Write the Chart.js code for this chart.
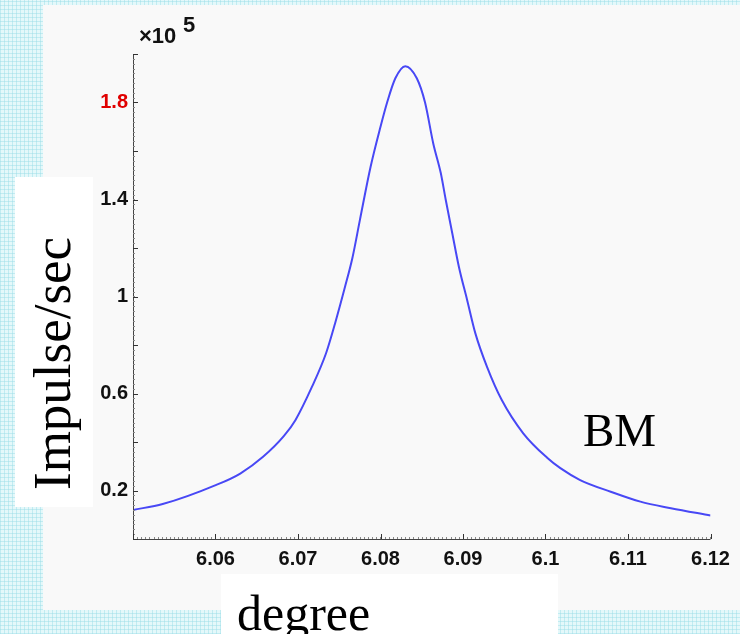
<!DOCTYPE html>
<html>
<head>
<meta charset="utf-8">
<script src="https://cdn.jsdelivr.net/npm/chart.js@4"></script>
<style>
  html, body { margin: 0; padding: 0; }
  body {
    width: 740px; height: 634px; overflow: hidden; position: relative;
    background-color: #e4f8fa;
    background-image:
      repeating-linear-gradient(0deg, rgba(150,220,230,0.45) 0 1px, transparent 1px 4px),
      repeating-linear-gradient(90deg, rgba(150,220,230,0.45) 0 1px, transparent 1px 4px);
  }
  #panel { position: absolute; left: 43px; top: 5px; width: 697px; height: 605px; background: #f9f9f9; }
  #wrap { position: absolute; left: 0; top: 0; width: 740px; height: 634px; }
  .box { position: absolute; background: #fff; }
  .serif { position: absolute; font-family: "Liberation Serif", "Times New Roman", serif; color: #000; line-height: 1; white-space: nowrap; }
  .sans { position: absolute; font-family: "Liberation Sans", Arial, sans-serif; font-weight: bold; color: #111; line-height: 1; white-space: nowrap; }
</style>
</head>
<body>
<div id="panel"></div>
<div class="box" style="left:15px; top:177px; width:78px; height:330px;"></div>
<div class="box" style="left:221px; top:574px; width:337px; height:60px;"></div>
<div id="wrap"><canvas id="peak_chart"></canvas></div>
<div class="serif" style="left:26px; top:490px; font-size:53px; transform:rotate(-90deg); transform-origin:0 0;">Impulse/sec</div>
<div class="serif" style="left:237px; top:588px; font-size:50px;">degree</div>
<div class="serif" style="left:583px; top:407px; font-size:47px;">BM</div>
<div class="sans" style="left:139px; top:25px; font-size:22px;">×10</div>
<div class="sans" style="left:183px; top:14px; font-size:22px;">5</div>
<script>
// degrees (x) and impulse rate in units of 10^5 (y)
const degrees = [6.0500, 6.0536, 6.0601, 6.0630, 6.0658, 6.0683, 6.0697, 6.0717, 6.0734, 6.0745,
  6.0757, 6.0766, 6.0775, 6.0788, 6.0800, 6.0808, 6.0818, 6.0830, 6.0844, 6.0854,
  6.0864, 6.0873, 6.0879, 6.0887, 6.0895, 6.0905, 6.0915, 6.0929, 6.0947, 6.0973,
  6.1002, 6.1018, 6.1042, 6.1079, 6.1115, 6.1152, 6.1200];
const impulse = [0.12, 0.144, 0.223, 0.27, 0.34, 0.425, 0.491, 0.628, 0.766, 0.89,
  1.04, 1.16, 1.315, 1.535, 1.70, 1.80, 1.90, 1.95, 1.90, 1.80,
  1.63, 1.51, 1.40, 1.261, 1.123, 0.986, 0.848, 0.711, 0.573, 0.436,
  0.335, 0.292, 0.243, 0.195, 0.154, 0.127, 0.097];
const yLabeled = [0.2, 0.6, 1, 1.4, 1.8];
const xMin = 6.05, xMax = 6.12;
const yMin = 0, yMax = 2.0;

const ctx = document.getElementById('peak_chart');

const points = degrees.map((d, i) => ({ x: d, y: impulse[i] }));

// axis lines with inward ticks, matlab style
const axisPlugin = {
  id: 'axisPlugin',
  afterDraw(chart) {
    const c = chart.ctx;
    const xs = chart.scales.x, ys = chart.scales.y;
    const a = chart.chartArea;
    c.save();
    c.strokeStyle = '#444';
    c.lineWidth = 1;
    c.beginPath();
    c.moveTo(a.left + 0.5, a.top);
    c.lineTo(a.left + 0.5, a.bottom + 0.5);
    c.lineTo(a.right, a.bottom + 0.5);
    c.stroke();
    // minor ticks
    c.strokeStyle = '#888';
    c.beginPath();
    for (let v = yMin; v <= yMax + 1e-9; v += 0.02) {
      const py = Math.round(ys.getPixelForValue(v)) + 0.5;
      c.moveTo(a.left, py); c.lineTo(a.left + 2, py);
    }
    for (let v = xMin; v <= xMax + 1e-9; v += 0.0005) {
      const px = Math.round(xs.getPixelForValue(v)) + 0.5;
      c.moveTo(px, a.bottom); c.lineTo(px, a.bottom - 2);
    }
    c.stroke();
    // major ticks
    c.strokeStyle = '#333';
    c.beginPath();
    ys.ticks.forEach(t => {
      const py = Math.round(ys.getPixelForValue(t.value)) + 0.5;
      c.moveTo(a.left, py); c.lineTo(a.left + 5, py);
    });
    xs.ticks.forEach(t => {
      const px = Math.round(xs.getPixelForValue(t.value)) + 0.5;
      c.moveTo(px, a.bottom); c.lineTo(px, a.bottom - 5);
    });
    c.stroke();
    c.restore();
  }
};

new Chart(ctx, {
  type: 'line',
  data: {
    datasets: [{
      data: points,
      borderColor: 'rgb(72,72,245)',
      borderWidth: 2,
      pointRadius: 0,
      fill: false,
      cubicInterpolationMode: 'monotone'
    }]
  },
  options: {
    responsive: true,
    maintainAspectRatio: false,
    animation: false,
    devicePixelRatio: 1,
    layout: { padding: { left: 0, top: 54, right: 29.5, bottom: 0 } },
    plugins: {
      legend: { display: false },
      tooltip: { enabled: false },
      title: { display: false }
    },
    scales: {
      x: {
        type: 'linear',
        min: xMin,
        max: xMax,
        grid: { display: false, drawTicks: false },
        border: { display: false },
        afterFit: (s) => { s.height = 95; },
        ticks: {
          stepSize: 0.01,
          padding: 8,
          maxRotation: 0,
          autoSkip: false,
          color: '#111',
          font: { family: '"Liberation Sans", Arial, sans-serif', size: 20, weight: 'bold' },
          callback: (v) => (Math.abs(v - xMin) < 1e-6 ? '' : String(Number(v.toFixed(2))))
        }
      },
      y: {
        type: 'linear',
        min: yMin,
        max: yMax,
        grid: { display: false, drawTicks: false },
        border: { display: false },
        afterFit: (s) => { s.width = 133; },
        ticks: {
          stepSize: 0.2,
          padding: 5,
          autoSkip: false,
          color: (c) => (Math.abs(c.tick.value - 1.8) < 1e-6 ? '#e00000' : '#111'),
          font: { family: '"Liberation Sans", Arial, sans-serif', size: 20, weight: 'bold' },
          callback: (v) => {
            const hit = yLabeled.find(l => Math.abs(l - v) < 1e-6);
            return hit === undefined ? '' : String(hit);
          }
        }
      }
    }
  },
  plugins: [axisPlugin]
});
</script>
</body>
</html>
